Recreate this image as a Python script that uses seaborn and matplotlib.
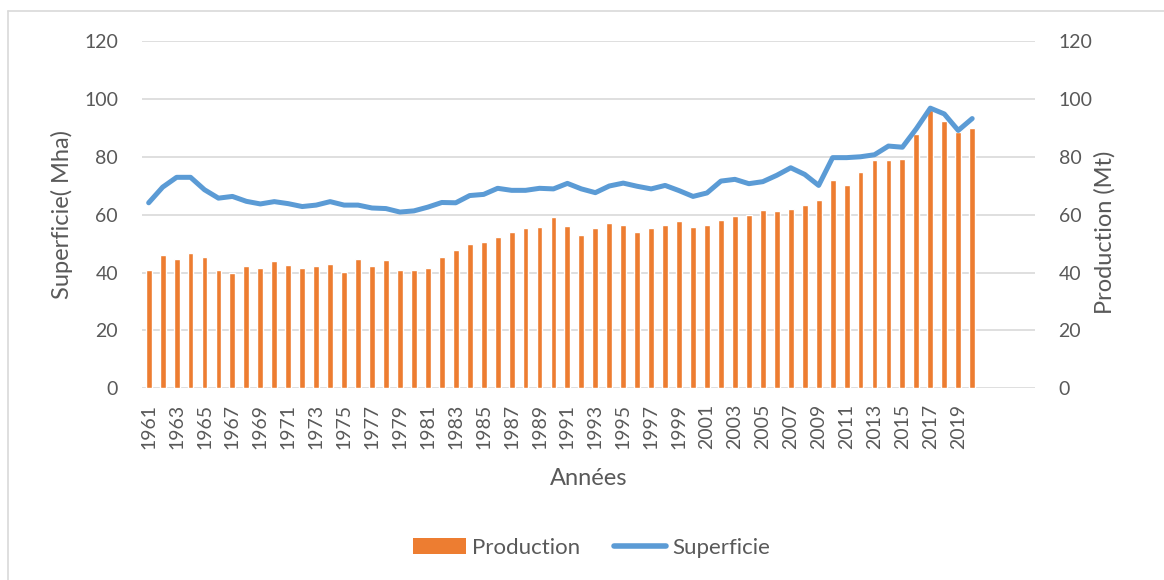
import numpy as np
import pandas as pd
import matplotlib
matplotlib.use('Agg')
import matplotlib.pyplot as plt
import seaborn as sns
from matplotlib.lines import Line2D
from matplotlib.patches import Patch

# Data
years = list(range(1961, 2021))
production = [40.8, 46.0, 44.6, 46.8, 45.2, 41.0, 39.9, 42.2, 41.7, 43.9,
              42.5, 41.5, 42.2, 43.0, 40.3, 44.6, 42.4, 44.2, 40.9, 40.8,
              41.6, 45.5, 47.7, 49.8, 50.4, 52.2, 53.9, 55.5, 55.6, 59.1,
              56.0, 52.8, 55.5, 57.0, 56.4, 54.1, 55.5, 56.4, 57.8, 55.7,
              56.3, 58.3, 59.4, 60.0, 61.5, 61.1, 62.1, 63.3, 64.9, 71.9,
              70.3, 74.6, 79.0, 78.9, 79.1, 87.8, 96.0, 92.3, 88.5, 89.8]
superficie = [64.1, 69.5, 72.9, 72.9, 68.6, 65.7, 66.3, 64.6, 63.7, 64.5,
              63.8, 62.8, 63.3, 64.5, 63.3, 63.3, 62.3, 62.1, 60.9, 61.3,
              62.6, 64.2, 64.1, 66.6, 67.0, 69.1, 68.4, 68.4, 69.1, 68.9,
              70.8, 68.9, 67.6, 69.9, 70.9, 69.8, 68.9, 70.1, 68.3, 66.3,
              67.5, 71.6, 72.2, 70.7, 71.4, 73.6, 76.2, 73.9, 70.1, 79.7,
              79.7, 80.0, 80.7, 83.7, 83.3, 89.7, 96.8, 94.8, 89.1, 93.2]
y_ticks = [0, 20, 40, 60, 80, 100, 120]

df = pd.DataFrame({'annee': years, 'production': production, 'superficie': superficie})
df['pos'] = np.arange(len(df))

orange = '#ED7D31'
blue = '#5B9BD5'
grey_txt = '#595959'
grid_col = '#D9D9D9'

sns.set_style('white')
plt.rcParams['font.family'] = ['Lato', 'DejaVu Sans']

fig = plt.figure(figsize=(11.64, 5.8), dpi=100)
ax = fig.add_axes([141.7 / 1164, 1 - 388.3 / 580, (1035 - 141.7) / 1164, (388.3 - 41) / 580])
ax2 = ax.twinx()

# bars on production axis (right), line on superficie axis (left)
sns.barplot(data=df, x='annee', y='production', ax=ax2, color=orange,
            width=0.42, saturation=1, zorder=2)
sns.lineplot(data=df, x='pos', y='superficie', ax=ax, color=blue,
             linewidth=3.6, solid_capstyle='round', solid_joinstyle='round')

ax.set_zorder(ax2.get_zorder() + 1)
ax.patch.set_visible(False)

for a in (ax, ax2):
    a.set_ylim(0, 120)
    a.set_yticks(y_ticks)
    a.set_xlim(-0.5, 63.5)
    for s in a.spines.values():
        s.set_visible(False)
    a.tick_params(axis='y', length=0, labelsize=14, labelcolor=grey_txt, pad=17)

ax2.grid(axis='y', color=grid_col, linewidth=1.2)
ax2.set_axisbelow(True)
ax.grid(False)

ax.set_xticks(df['pos'][::2])
ax.set_xticklabels(df['annee'][::2], rotation=90)
ax.tick_params(axis='x', length=0, labelsize=14, labelcolor=grey_txt, pad=11)
ax2.tick_params(axis='x', bottom=False, labelbottom=False)

ax.set_xlabel('Années', fontsize=17, color=grey_txt, labelpad=14)
ax.set_ylabel('Superficie( Mha)', fontsize=17, color=grey_txt, labelpad=8)
ax2.set_ylabel('Production (Mt)', fontsize=17, color=grey_txt, va='center', ha='center')
ax2.yaxis.set_label_coords(1.078, 0.45)

handles = [Patch(facecolor=orange, edgecolor='none', label='Production'),
           Line2D([], [], color=blue, linewidth=4, solid_capstyle='round', label='Superficie')]
leg = fig.legend(handles=handles, loc='center', bbox_to_anchor=(592 / 1164, 1 - 548 / 580),
                 ncol=2, frameon=False, fontsize=16, handlelength=2.35, handleheight=0.7,
                 handletextpad=0.3, columnspacing=1.5)
for t in leg.get_texts():
    t.set_color(grey_txt)

# chart border like the source
fig.add_artist(Line2D([8 / 1164, 8 / 1164], [0, 1 - 11 / 580], color=grid_col, linewidth=1.2))
fig.add_artist(Line2D([8 / 1164, 1], [1 - 11 / 580, 1 - 11 / 580], color=grid_col, linewidth=1.2))

fig.savefig('out.png', dpi=100)
